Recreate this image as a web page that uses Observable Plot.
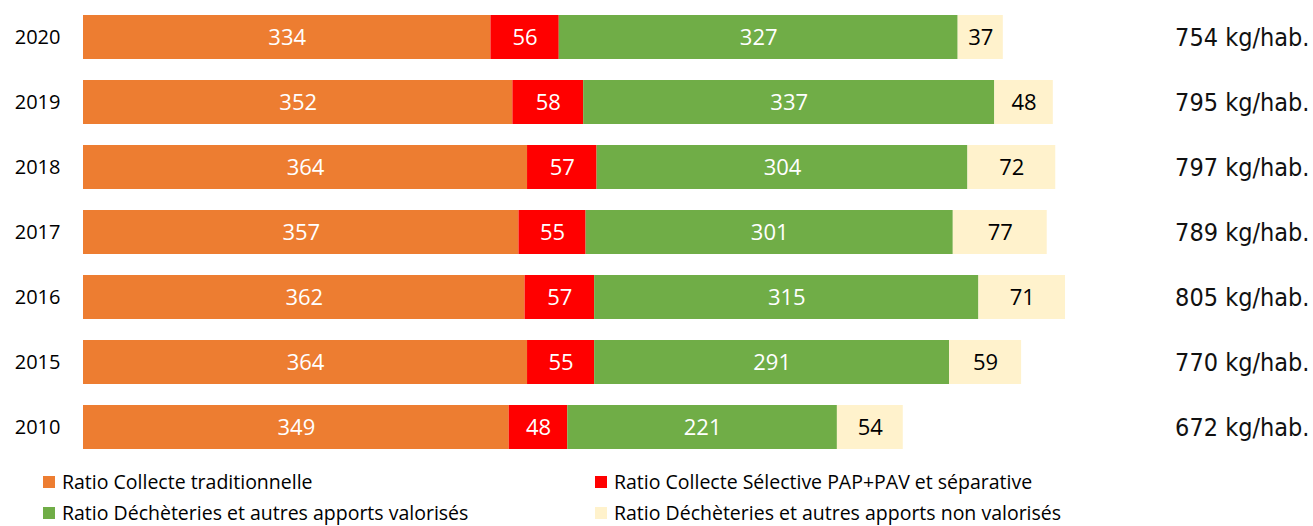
<!DOCTYPE html>
<html>
<head>
<meta charset="utf-8">
<script src="https://cdn.jsdelivr.net/npm/d3@7"></script>
<script src="https://cdn.jsdelivr.net/npm/@observablehq/plot@0.6"></script>
<style>
  html, body { margin: 0; padding: 0; background: #fff; }
  body { width: 1313px; height: 526px; overflow: hidden; font-family: "Open Sans", sans-serif; }
  #chart svg { display: block; }
  .legend { position: relative; height: 64px; font-size: 19.5px; line-height: 20px; color: #000; }
  .item { position: absolute; display: flex; align-items: center; white-space: nowrap; height: 20px; }
  .sw { width: 12px; height: 12px; margin-right: 7px; flex: none; }
</style>
</head>
<body>
<div id="chart"></div>
<div class="legend" id="legend"></div>
<script>
const years = ["2020", "2019", "2018", "2017", "2016", "2015", "2010"];
const categories = [
  "Ratio Collecte traditionnelle",
  "Ratio Collecte Sélective PAP+PAV et séparative",
  "Ratio Déchèteries et autres apports valorisés",
  "Ratio Déchèteries et autres apports non valorisés"
];
const colors = ["#ED7D31", "#FF0000", "#70AD47", "#FFF2CC"];
const traditionnelle = [334, 352, 364, 357, 362, 364, 349];
const selective      = [56, 58, 57, 55, 57, 55, 48];
const valorises      = [327, 337, 304, 301, 315, 291, 221];
const nonValorises   = [37, 48, 72, 77, 71, 59, 54];
const totals         = [754, 795, 797, 789, 805, 770, 672];

const series = [traditionnelle, selective, valorises, nonValorises];
const rows = [];
years.forEach((y, i) => {
  series.forEach((s, j) => rows.push({year: y, cat: categories[j], value: s[i]}));
});
const totalRows = years.map((y, i) => ({year: y, total: totals[i]}));

const chart = Plot.plot({
  width: 1313,
  height: 462,
  marginLeft: 83,
  marginRight: 4,
  marginTop: 14,
  marginBottom: 13,
  style: {fontFamily: "Open Sans, sans-serif", background: "white"},
  x: {domain: [0, 1005], axis: null},
  y: {domain: years, paddingInner: 0.33, paddingOuter: 0, axis: null},
  color: {domain: categories, range: colors},
  marks: [
    Plot.barX(rows, {x: "value", y: "year", fill: "cat", order: categories}),
    Plot.text(rows.filter(d => d.cat !== categories[3]), Plot.stackX({
      x: "value", y: "year", z: "cat", order: categories, text: d => String(d.value),
      fill: "white", fontSize: 22
    })),
    Plot.text(rows, Plot.stackX({
      x: "value", y: "year", z: "cat", order: categories,
      text: d => d.cat === categories[3] ? String(d.value) : "",
      fill: "black", fontSize: 22
    })),
    Plot.text(years, {y: d => d, text: d => d, frameAnchor: "left", textAnchor: "end", dx: -23, fontSize: 20, fill: "black"}),
    Plot.text(totalRows, {
      y: "year", text: d => `${d.total} kg/hab.`, frameAnchor: "right", textAnchor: "end",
      fontSize: 25, fontFamily: "'Liberation Sans Narrow', 'DejaVu Sans Condensed', sans-serif",
      fontStretch: "condensed", fill: "#111"
    })
  ]
});
document.getElementById("chart").appendChild(chart);

const legend = document.getElementById("legend");
const pos = [[43, 10], [595, 10], [43, 41], [595, 41]];
categories.forEach((c, i) => {
  const it = document.createElement("div");
  it.className = "item";
  it.style.left = pos[i][0] + "px";
  it.style.top = pos[i][1] + "px";
  const sw = document.createElement("span");
  sw.className = "sw";
  sw.style.background = colors[i];
  const t = document.createElement("span");
  t.textContent = c;
  it.appendChild(sw);
  it.appendChild(t);
  legend.appendChild(it);
});
</script>
</body>
</html>
